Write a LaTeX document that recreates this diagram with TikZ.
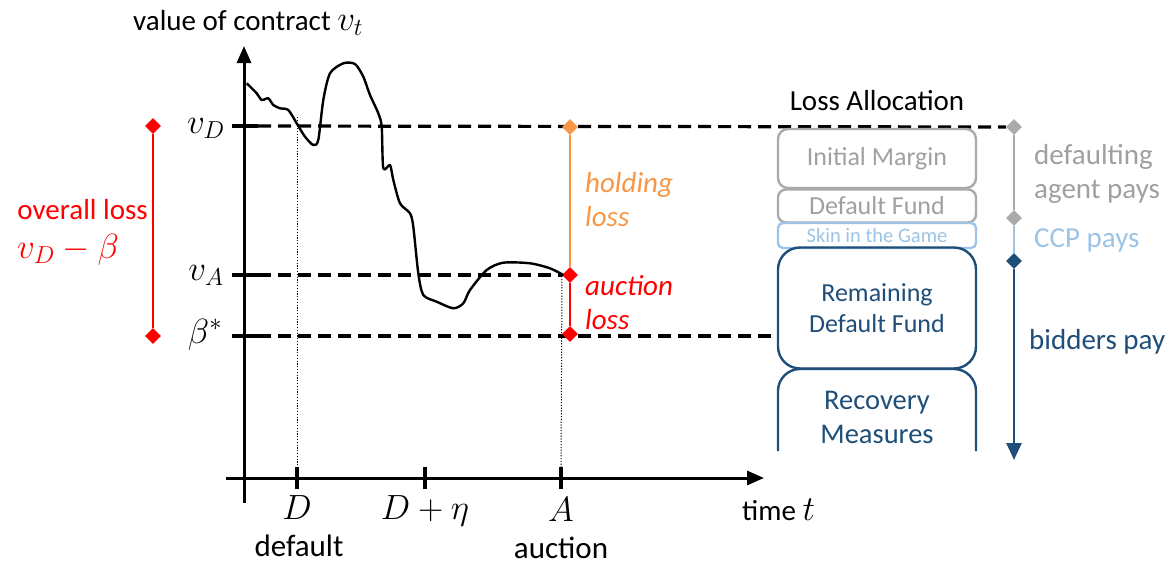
\RequirePackage{fix-cm}
\documentclass[tikz,border=0pt]{standalone}
\usepackage{fontspec}
\setmainfont{Carlito}
\usetikzlibrary{arrows.meta,shapes.geometric}
\definecolor{lossred}{RGB}{255,0,0}
\definecolor{holdorange}{RGB}{247,150,70}
\definecolor{agentgray}{RGB}{170,170,170}
\definecolor{agenttext}{RGB}{160,160,160}
\definecolor{ccpblue}{RGB}{157,195,230}
\definecolor{bidblue}{RGB}{31,78,121}
\pgfdeclarelayer{back}
\pgfsetlayers{back,main}
\newcommand\axismath[1]{{\fontsize{35}{40}\selectfont$#1$}}
\begin{document}
\begin{tikzpicture}[x=1pt,y=-1pt,
  axis/.style={line width=3pt,-{Triangle[length=17pt,width=14pt]}},
  xtickmark/.style={fill,inner sep=0pt,minimum width=3.4pt,minimum height=22pt},
  ytickmark/.style={fill,inner sep=0pt,minimum width=26pt,minimum height=3.4pt},
  level/.style={line width=3.2pt,dash pattern=on 13pt off 7pt},
  guide/.style={line width=1pt,dash pattern=on 1.2pt off 1.6pt},
  marker/.style={diamond,fill,inner sep=0pt,minimum size=16pt},
  lbl/.style={font=\fontsize{29}{34}\selectfont,inner sep=0pt},
  evlbl/.style={font=\fontsize{31}{36}\selectfont,inner sep=0pt},
  mlbl/.style={font=\fontsize{35}{40}\selectfont,inner sep=0pt},
  layer/.style={draw,line width=2.4pt,minimum width=198pt,inner sep=0pt,align=center},
  paystyle/.style={line width=2.6pt}
]
\useasboundingbox (0,0) rectangle (1176,565);

% markers on the loss bars
\node[marker,lossred] (ovTop) at (153,126) {};
\node[marker,lossred] (ovBot) at (153,336) {};
\node[marker,holdorange] (hTop) at (570,127) {};
\node[marker,lossred] (aTop) at (570,275) {};
\node[marker,lossred] (aBot) at (570,334) {};
\node[marker,agentgray] (gTop) at (1014,127) {};
\node[marker,agentgray] (gMid) at (1014,218) {};
\node[marker,bidblue] (bTop) at (1014,261) {};
\coordinate (bEnd) at (1014,460);

% axes
\coordinate (yBot) at (244,503);
\coordinate (yTop) at (244,46);
\coordinate (xLeft) at (226,478);
\coordinate (xRight) at (764,478);
\draw[axis] (yBot) -- (yTop);
\draw[axis] (xLeft) -- (xRight);
\node[lbl,anchor=base west] (ylab) at (133,30) {value of contract \axismath{v_t}};
\node[lbl,anchor=base west] (xlab) at (742,520) {time \axismath{t}};

% ticks on the time axis
\node[xtickmark] (tD) at (297,478) {};
\node[xtickmark] (tDe) at (425,478) {};
\node[xtickmark] (tA) at (561,478) {};
\node[mlbl,anchor=base] at (297,519) {$D$};
\node[mlbl,anchor=base] at (425,519) {$D+\eta$};
\node[mlbl,anchor=base] at (561,521) {$A$};
\node[evlbl,anchor=base] at (299,556) {default};
\node[evlbl,anchor=base] at (561,558) {auction};

% ticks on the value axis
\node[ytickmark] (tvD) at (245,126) {};
\node[ytickmark] (tvA) at (245,275) {};
\node[ytickmark] (tvB) at (245,336) {};
\node[mlbl,anchor=base] at (206,133) {$v_D$};
\node[mlbl,anchor=base] at (206,280) {$v_A$};
\node[mlbl,anchor=base] at (205,343) {$\beta^*$};

\begin{pgfonlayer}{back}
  % price levels
  \draw[level] (tvD.east) -- (gTop);
  \draw[level] (tvA.east) -- (aTop);
  \coordinate (bEndLevel) at (771,336);
  \draw[level] (tvB.east) -- (bEndLevel);
  % default and auction times
  \coordinate (dTop) at (297,117);
  \coordinate (aDot) at (562,276);
  \draw[guide] (dTop) -- (tD.north);
  \draw[guide] (aDot) -- (tA.north);
  % loss bars
  \draw[lossred,line width=2.6pt] (ovTop) -- (ovBot);
  \draw[holdorange,line width=2.6pt] (hTop) -- (aTop);
  \draw[lossred,line width=2.6pt] (aTop) -- (aBot);
  \draw[agentgray,paystyle] (gTop) -- (gMid);
  \draw[ccpblue,paystyle] (gMid) -- (bTop);
  \draw[bidblue,paystyle,-{Triangle[length=17pt,width=15pt]}] (bTop) -- (bEnd);
\end{pgfonlayer}

% contract value path
\draw[line width=2.4pt,line join=round] plot[smooth,tension=0.45] coordinates {
  (246.7,83.3) (256.7,93.3) (261.7,100) (268.3,98.3) (273.3,105) (280,108.3)
  (288.3,110) (296.7,123.3) (305,136.7) (313.3,145) (318.3,140) (323.3,100)
  (330,73.3) (343.3,63.3) (355,64) (363.3,76.7) (370,95) (378.3,113.3)
  (381.7,126.7) (383.3,168.3) (390,165) (393.3,180) (400,203.3) (410,213.3)
  (413.3,226.7) (418.3,273.3) (423.3,295) (436.7,301.7) (453.3,308.3)
  (463.3,303.3) (470,290) (486.7,270) (503.3,262.7) (530,263.3) (550,268.3)
  (563.3,275)};

% loss labels
\node[lbl,lossred,anchor=base east] (ovl) at (148,219) {overall loss};
\node[mlbl,lossred,anchor=base west] (ovm) at (17,258) {$v_D-\beta$};
\node[lbl,holdorange,anchor=west,align=left] (hl) at (585,200)
  {\itshape holding\\\itshape loss};
\node[lbl,lossred,anchor=west,align=left] (al) at (585,303)
  {\itshape auction\\\itshape loss};

% loss allocation waterfall
\node[lbl,anchor=base] (la) at (877,110) {Loss Allocation};
\node[layer,agentgray,text=agenttext,rounded corners=10pt,minimum height=59pt,
  font=\fontsize{26}{30}\selectfont] (im) at (877,158.5) {Initial Margin};
\node[layer,agentgray,text=agenttext,rounded corners=8pt,minimum height=33pt,
  font=\fontsize{26}{30}\selectfont] (df) at (877,206) {Default Fund};
\node[layer,ccpblue,rounded corners=5pt,minimum height=25pt,
  font=\fontsize{20.5}{24}\selectfont] (sg) at (877,235.5) {Skin in the Game};
\node[layer,bidblue,rounded corners=22pt,minimum height=121pt,
  font=\fontsize{26}{31}\selectfont] (rdf) at (877,308) {Remaining\\Default Fund};
\node[bidblue,align=center,inner sep=0pt,
  font=\fontsize{28.5}{34}\selectfont] (rm) at (877,417) {Recovery\\Measures};
\draw[bidblue,line width=2.4pt,rounded corners=22pt]
  (778,451) -- (778,369) -- (976,369) -- (976,451);

% who pays
\node[lbl,agenttext,anchor=west,align=left] (ap) at (1034,174) {defaulting\\agent pays};
\node[lbl,ccpblue,anchor=west] (cp) at (1034,240) {CCP pays};
\node[lbl,bidblue,anchor=west] (bp) at (1029,342) {bidders pay};
\end{tikzpicture}
\end{document}
